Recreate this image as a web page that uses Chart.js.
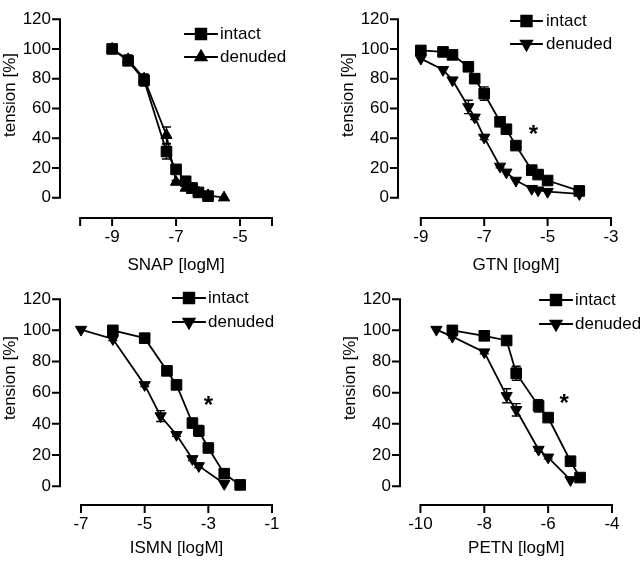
<!DOCTYPE html>
<html>
<head>
<meta charset="utf-8">
<script src="https://cdn.jsdelivr.net/npm/chart.js@4.4.0/dist/chart.umd.min.js"></script>
<style>
  body { margin: 0; background: #fff; }
  #wrap { position: relative; width: 640px; height: 563px; }
  .panel { position: absolute; }
</style>
</head>
<body>
<div id="wrap">
  <div class="panel" style="left:0;top:0"><canvas id="snap" width="320" height="280"></canvas></div>
  <div class="panel" style="left:320px;top:0"><canvas id="gtn" width="320" height="280"></canvas></div>
  <div class="panel" style="left:0;top:280px"><canvas id="ismn" width="320" height="283"></canvas></div>
  <div class="panel" style="left:320px;top:280px"><canvas id="petn" width="320" height="283"></canvas></div>
</div>
<script>
// tension [%] vs log concentration, mean +- SEM
const yTicks = [0, 20, 40, 60, 80, 100, 120];

// SNAP
const snapIntactX = [-9, -8.5, -8, -7.3, -7, -6.7, -6.5, -6.3, -6];
const snapIntactY = [100, 92, 79, 31, 19, 11, 6.5, 3.5, 1];
const snapIntactErr = [0, 3, 4, 5, 1, 0, 0, 0, 0];
const snapDenudedX = [-9, -8.5, -8, -7.3, -7, -6.7, -6.5, -6.3, -6, -5.5];
const snapDenudedY = [100, 93, 80, 42, 10.5, 6.5, 5, 3.5, 1.5, 0];
const snapDenudedErr = [0, 3, 3, 5.5, 1, 0, 0, 0, 0, 0];
const snapXTicks = [-9, -7, -5];
const snapStar = null;

// GTN
const gtnIntactX = [-9, -8.3, -8, -7.5, -7.3, -7, -6.5, -6.3, -6, -5.5, -5.3, -5, -4];
const gtnIntactY = [99, 98, 96, 88, 80, 70, 51, 46, 35, 18.5, 15.5, 11.5, 4.5];
const gtnIntactErr = [0, 0, 0, 1, 2, 4.5, 2, 2, 1.5, 1, 1, 0, 0];
const gtnDenudedX = [-9, -8.3, -8, -7.5, -7.3, -7, -6.5, -6.3, -6, -5.5, -5.3, -5, -4];
const gtnDenudedY = [93.5, 86, 79, 61, 54, 40.5, 21, 17, 11.5, 6, 5, 4, 2.5];
const gtnDenudedErr = [0, 0, 0, 4.5, 1.5, 1.5, 1, 0, 0, 0, 0, 0, 0];
const gtnXTicks = [-9, -7, -5, -3];
const gtnStar = [-5.45, 47];

// ISMN
const ismnIntactX = [-6, -5, -4.3, -4, -3.5, -3.3, -3, -2.5, -2];
const ismnIntactY = [100, 95, 74, 65, 40.5, 35.5, 24.5, 8, 0.8];
const ismnIntactErr = [0, 1, 1, 2, 2, 3.5, 2.5, 1, 0];
const ismnDenudedX = [-7, -6, -5, -4.5, -4, -3.5, -3.3, -2.5];
const ismnDenudedY = [100.5, 94.5, 65, 45, 33, 17.5, 13, 1.5];
const ismnDenudedErr = [0, 1, 1, 3.5, 1, 1, 1, 0];
const ismnXTicks = [-7, -5, -3, -1];
const ismnStar = [-3, 56];

// PETN
const petnIntactX = [-9, -8, -7.3, -7, -6.3, -6, -5.3, -5];
const petnIntactY = [100, 96.5, 93.5, 72.5, 51.5, 44, 16, 5.5];
const petnIntactErr = [0, 1, 2, 4.5, 4, 1, 1, 0];
const petnDenudedX = [-9.5, -9, -8, -7.3, -7, -6.3, -6, -5.3];
const petnDenudedY = [100.5, 96, 86, 58, 49, 23.5, 18.5, 4];
const petnDenudedErr = [0, 1, 1, 4.5, 4, 1, 1, 0];
const petnXTicks = [-10, -8, -6, -4];
const petnStar = [-5.5, 57];

const FONT = '"Liberation Sans", Arial, Helvetica, sans-serif';
Chart.defaults.font.family = FONT;
Chart.defaults.font.size = 17;
Chart.defaults.color = '#000';

function points(xs, ys) {
  return xs.map((x, i) => ({ x: x, y: ys[i] }));
}

// prism-style axes, error bars, legend and star drawn on top of chart.js scales
const prismPlugin = {
  id: 'prism',
  beforeDatasetsDraw(chart) {
    const ctx = chart.ctx;
    const ys = chart.scales.y;
    ctx.save();
    ctx.strokeStyle = '#000';
    ctx.lineWidth = 1.4;
    chart.data.datasets.forEach((ds, i) => {
      chart.getDatasetMeta(i).data.forEach((pt, j) => {
        const e = ds.errors[j];
        if (!e) return;
        const top = ys.getPixelForValue(ds.data[j].y + e);
        const bot = ys.getPixelForValue(ds.data[j].y - e);
        ctx.beginPath();
        ctx.moveTo(pt.x, top); ctx.lineTo(pt.x, bot);
        ctx.moveTo(pt.x - 4.5, top); ctx.lineTo(pt.x + 4.5, top);
        ctx.moveTo(pt.x - 4.5, bot); ctx.lineTo(pt.x + 4.5, bot);
        ctx.stroke();
      });
    });
    ctx.restore();
  },
  afterDraw(chart, args, opts) {
    const ctx = chart.ctx;
    const xs = chart.scales.x, ys = chart.scales.y;
    const area = chart.chartArea;
    ctx.save();
    ctx.strokeStyle = '#000';
    ctx.fillStyle = '#000';
    ctx.lineWidth = 2;
    ctx.lineCap = 'square';

    // y axis, only 0..120
    ctx.beginPath();
    ctx.moveTo(area.left, ys.getPixelForValue(0));
    ctx.lineTo(area.left, ys.getPixelForValue(120));
    yTicks.forEach(v => {
      const p = ys.getPixelForValue(v);
      ctx.moveTo(area.left - 7, p);
      ctx.lineTo(area.left, p);
    });
    // x axis, offset below
    const xa = xs.getPixelForValue(opts.axis[0]);
    const xb = xs.getPixelForValue(opts.axis[1]);
    ctx.moveTo(xa, area.bottom);
    ctx.lineTo(xb, area.bottom);
    opts.axis.concat(opts.ticks).forEach(v => {
      const p = xs.getPixelForValue(v);
      ctx.moveTo(p, area.bottom);
      ctx.lineTo(p, area.bottom + 7);
    });
    ctx.stroke();

    // titles
    ctx.font = '17px ' + FONT;
    ctx.textAlign = 'center';
    ctx.textBaseline = 'middle';
    ctx.fillText(opts.xTitle, (xa + xb) / 2, opts.xTitleY);
    ctx.save();
    ctx.translate(area.left - 50, opts.yTitleY);
    ctx.rotate(-Math.PI / 2);
    ctx.fillText('tension [%]', 0, 0);
    ctx.restore();

    // legend
    const lg = opts.legend;
    chart.data.datasets.forEach((ds, i) => {
      const ly = lg.y[i];
      ctx.lineWidth = 1.8;
      ctx.beginPath();
      ctx.moveTo(lg.x1, ly);
      ctx.lineTo(lg.x2, ly);
      ctx.stroke();
      Chart.helpers.drawPoint(ctx, {
        pointStyle: ds.pointStyle,
        rotation: ds.pointRotation || 0,
        radius: ds.pointRadius,
        borderWidth: 1
      }, (lg.x1 + lg.x2) / 2, ly);
      ctx.textAlign = 'left';
      ctx.fillText(ds.label, lg.tx, ly);
    });

    // significance star
    if (opts.star) {
      ctx.font = 'bold 24px ' + FONT;
      ctx.textAlign = 'center';
      ctx.textBaseline = 'alphabetic';
      ctx.fillText('*', xs.getPixelForValue(opts.star[0]), ys.getPixelForValue(opts.star[1]) + 14);
    }
    ctx.restore();
  }
};

function makePanel(id, cfg) {
  const datasets = [
    {
      label: 'intact',
      data: points(cfg.intactX, cfg.intactY),
      errors: cfg.intactErr,
      pointStyle: 'rect',
      pointRadius: 7.5,
      pointRotation: 0
    },
    {
      label: 'denuded',
      data: points(cfg.denudedX, cfg.denudedY),
      errors: cfg.denudedErr,
      pointStyle: 'triangle',
      pointRadius: 6.5,
      pointRotation: cfg.triRotation
    }
  ];
  datasets.forEach(ds => {
    ds.borderColor = '#000';
    ds.backgroundColor = '#000';
    ds.pointBackgroundColor = '#000';
    ds.pointBorderColor = '#000';
    ds.borderWidth = 1.8;
    ds.pointBorderWidth = 1;
    ds.tension = 0;
    ds.clip = false;
  });

  new Chart(document.getElementById(id), {
    type: 'line',
    data: { datasets: datasets },
    options: {
      responsive: false,
      animation: false,
      events: [],
      layout: { autoPadding: false, padding: cfg.padding },
      plugins: {
        legend: { display: false },
        tooltip: { enabled: false },
        prism: {
          axis: cfg.axis,
          ticks: cfg.xTicks,
          xTitle: cfg.xTitle,
          xTitleY: cfg.xTitleY,
          yTitleY: cfg.yTitleY,
          legend: cfg.legend,
          star: cfg.star
        }
      },
      scales: {
        x: {
          type: 'linear',
          min: cfg.xMin,
          max: cfg.axis[1],
          grid: { display: false, drawTicks: false },
          border: { display: false },
          afterBuildTicks: s => { s.ticks = cfg.xTicks.map(v => ({ value: v })); },
          afterFit: s => { s.height = 50; },
          ticks: { padding: 9, maxRotation: 0, autoSkip: false }
        },
        y: {
          min: cfg.yMin,
          max: 120,
          grid: { display: false, drawTicks: false },
          border: { display: false },
          afterBuildTicks: s => { s.ticks = yTicks.map(v => ({ value: v })); },
          afterFit: s => { s.width = cfg.yWidth; },
          ticks: { padding: 9 }
        }
      }
    },
    plugins: [prismPlugin]
  });
}

makePanel('snap', {
  intactX: snapIntactX, intactY: snapIntactY, intactErr: snapIntactErr,
  denudedX: snapDenudedX, denudedY: snapDenudedY, denudedErr: snapDenudedErr,
  triRotation: 0,
  xTicks: snapXTicks, axis: [-10, -4], xMin: -10.63, yMin: -13.7, yWidth: 60,
  padding: { left: 0, right: 48, top: 7, bottom: 12 },
  xTitle: 'SNAP [logM]', xTitleY: 265, yTitleY: 95,
  legend: { x1: 185, x2: 217, tx: 220, y: [34, 57] },
  star: snapStar
});

makePanel('gtn', {
  intactX: gtnIntactX, intactY: gtnIntactY, intactErr: gtnIntactErr,
  denudedX: gtnDenudedX, denudedY: gtnDenudedY, denudedErr: gtnDenudedErr,
  triRotation: 180,
  xTicks: gtnXTicks, axis: [-9, -3], xMin: -9.72, yMin: -13.7, yWidth: 78,
  padding: { left: 0, right: 29, top: 7, bottom: 12 },
  xTitle: 'GTN [logM]', xTitleY: 265, yTitleY: 95,
  legend: { x1: 191, x2: 222, tx: 226, y: [21, 44] },
  star: gtnStar
});

makePanel('ismn', {
  intactX: ismnIntactX, intactY: ismnIntactY, intactErr: ismnIntactErr,
  denudedX: ismnDenudedX, denudedY: ismnDenudedY, denudedErr: ismnDenudedErr,
  triRotation: 180,
  xTicks: ismnXTicks, axis: [-7, -1], xMin: -7.66, yMin: -12.1, yWidth: 60,
  padding: { left: 0, right: 48, top: 18, bottom: 8 },
  xTitle: 'ISMN [logM]', xTitleY: 268, yTitleY: 98,
  legend: { x1: 173, x2: 205, tx: 208, y: [18, 42] },
  star: ismnStar
});

makePanel('petn', {
  intactX: petnIntactX, intactY: petnIntactY, intactErr: petnIntactErr,
  denudedX: petnDenudedX, denudedY: petnDenudedY, denudedErr: petnDenudedErr,
  triRotation: 180,
  xTicks: petnXTicks, axis: [-10, -4], xMin: -10.64, yMin: -12.1, yWidth: 80,
  padding: { left: 0, right: 28, top: 18, bottom: 8 },
  xTitle: 'PETN [logM]', xTitleY: 268, yTitleY: 98,
  legend: { x1: 220, x2: 252, tx: 255, y: [20, 44] },
  star: petnStar
});
</script>
</body>
</html>
